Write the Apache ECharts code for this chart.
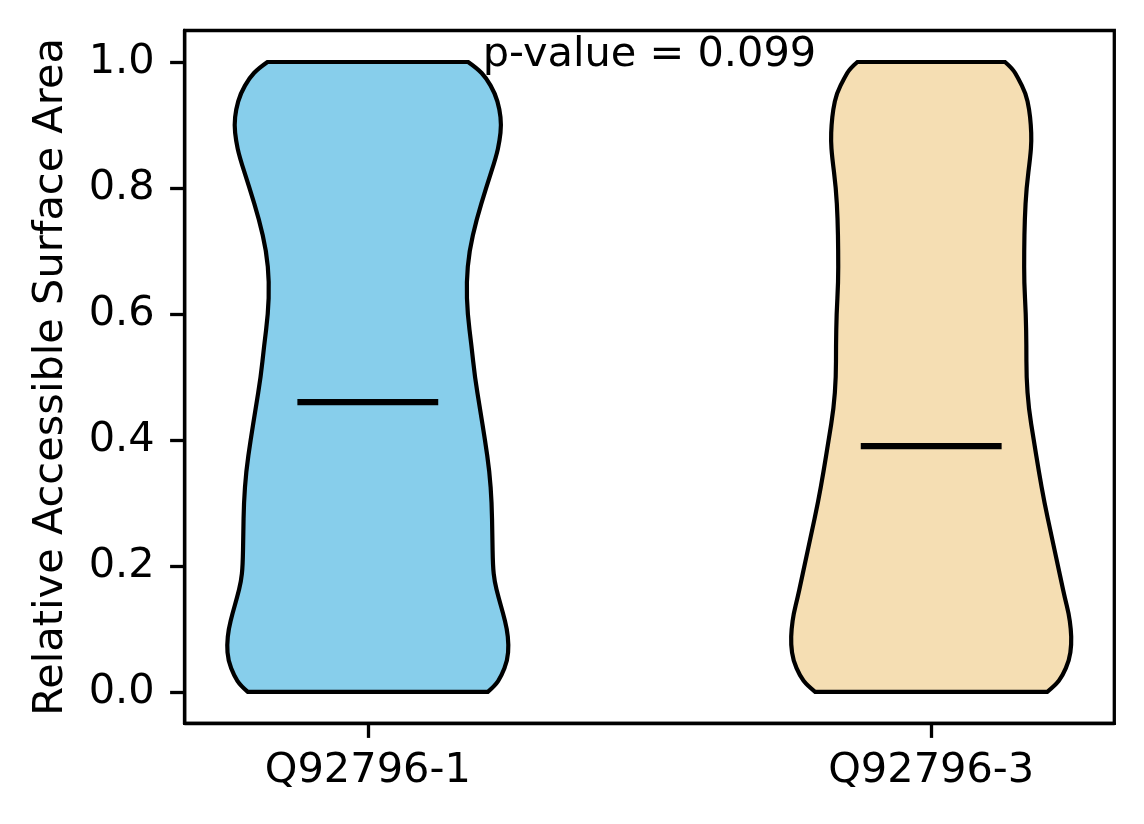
<!DOCTYPE html>
<html>
<head>
<meta charset="utf-8">
<script src="https://cdn.jsdelivr.net/npm/echarts@6/dist/echarts.min.js"></script>
<style>
  html, body { margin: 0; padding: 0; background: #ffffff; }
  #chart { width: 1144px; height: 824px; }
</style>
</head>
<body>
<div id="chart"></div>
<script>
// ---- data ----
const categories = ['Q92796-1', 'Q92796-3'];
const positions = [1, 2];
const medians = [0.46, 0.39];
const pValueText = 'p-value = 0.099';
const yTicks = [0.0, 0.2, 0.4, 0.6, 0.8, 1.0];
// y levels at which the violin half-widths were read
const yLevels = [0, 0.01, 0.025, 0.05, 0.075, 0.1, 0.125, 0.15, 0.175, 0.2, 0.25, 0.3, 0.35, 0.4, 0.45,
                 0.5, 0.55, 0.6, 0.65, 0.7, 0.75, 0.8, 0.85, 0.875, 0.9, 0.925, 0.95, 0.975, 0.99, 1.0];
// half-widths of violin 1 (Q92796-1)
const halfWidth1 = [0.213, 0.226, 0.237, 0.248, 0.250, 0.247, 0.240, 0.232, 0.225, 0.222, 0.221, 0.220, 0.216, 0.208, 0.199,
                    0.190, 0.184, 0.177, 0.175, 0.180, 0.193, 0.210, 0.228, 0.234, 0.237, 0.234, 0.226, 0.210, 0.194, 0.178];
// half-widths of violin 2 (Q92796-3)
const halfWidth2 = [0.206, 0.220, 0.233, 0.245, 0.249, 0.248, 0.244, 0.237, 0.231, 0.225, 0.213, 0.201, 0.191, 0.182, 0.173,
                    0.169, 0.169, 0.168, 0.165, 0.165, 0.166, 0.169, 0.176, 0.178, 0.177, 0.174, 0.168, 0.154, 0.144, 0.131];
const fillColors = ['#87CEEB', '#F5DEB3'];

const halfWidths = [halfWidth1, halfWidth2];
const medianHalfLen = 0.125;

const chart = echarts.init(document.getElementById('chart'), null, { renderer: 'canvas' });
const FONT = 'DejaVu Sans';
const FS = 41.5;

// smooth open curve through points (quadratic through midpoints), endpoints kept exact
function curve(pts, startWithMove) {
  let d = (startWithMove ? 'M' : 'L') + pts[0][0] + ' ' + pts[0][1];
  const n = pts.length;
  if (n < 3) { return d + ' L' + pts[n - 1][0] + ' ' + pts[n - 1][1]; }
  for (let k = 1; k < n - 1; k++) {
    const nx = k === n - 2 ? pts[n - 1] : [(pts[k][0] + pts[k + 1][0]) / 2, (pts[k][1] + pts[k + 1][1]) / 2];
    d += ' Q' + pts[k][0] + ' ' + pts[k][1] + ' ' + nx[0] + ' ' + nx[1];
  }
  return d;
}

function renderViolin(params, api) {
  const i = params.dataIndex;
  const pos = positions[i];
  const hw = halfWidths[i];
  const left = [], right = [];
  for (let k = 0; k < yLevels.length; k++) left.push(api.coord([pos - hw[k], yLevels[k]]));
  for (let k = yLevels.length - 1; k >= 0; k--) right.push(api.coord([pos + hw[k], yLevels[k]]));
  const d = curve(left, true) + ' ' + curve(right, false) + ' Z';
  const m0 = api.coord([pos - medianHalfLen, medians[i]]);
  const m1 = api.coord([pos + medianHalfLen, medians[i]]);
  return {
    type: 'group',
    children: [
      { type: 'path', shape: { pathData: d },
        style: { fill: fillColors[i], stroke: '#000', lineWidth: 4.2, lineJoin: 'miter' } },
      { type: 'line', shape: { x1: m0[0], y1: m0[1], x2: m1[0], y2: m1[1] },
        style: { stroke: '#000', lineWidth: 6.25, lineCap: 'butt' } }
    ]
  };
}

chart.setOption({
  animation: false,
  backgroundColor: '#ffffff',
  grid: { left: 184.7, right: 29.7, top: 30.5, bottom: 100.7, show: true,
          borderColor: '#000', borderWidth: 3.3, backgroundColor: 'transparent' },
  xAxis: {
    type: 'value', min: 0.675, max: 2.325,
    axisLine: { show: true, onZero: false, lineStyle: { color: '#000', width: 3.3 } },
    axisTick: { show: true, length: 14.6, lineStyle: { color: '#000', width: 3.3 }, customValues: positions },
    axisLabel: { show: true, customValues: positions, margin: 27, color: '#000',
                 fontFamily: FONT, fontSize: FS,
                 formatter: v => categories[positions.indexOf(Math.round(v))] },
    splitLine: { show: false }
  },
  yAxis: {
    type: 'value', min: -0.05, max: 1.05,
    name: 'Relative Accessible Surface Area', nameLocation: 'middle', nameGap: 112,
    nameTextStyle: { color: '#000', fontFamily: FONT, fontSize: FS },
    axisLine: { show: true, onZero: false, lineStyle: { color: '#000', width: 3.3 } },
    axisTick: { show: true, length: 14.6, lineStyle: { color: '#000', width: 3.3 }, customValues: yTicks },
    axisLabel: { show: true, customValues: yTicks, margin: 30, color: '#000',
                 fontFamily: FONT, fontSize: FS, formatter: v => v.toFixed(1) },
    splitLine: { show: false }
  },
  series: [
    { type: 'custom', renderItem: renderViolin, data: positions.map((p, i) => [p, medians[i]]),
      clip: false, z: 2 },
    { type: 'scatter', data: [[1.5, 1.0]], symbolSize: 0, z: 5, itemStyle: { opacity: 1 },
      label: { show: true, position: 'inside', offset: [0, -7], formatter: pValueText, color: '#000',
               opacity: 1, fontFamily: FONT, fontSize: FS } }
  ]
});
</script>
</body>
</html>
